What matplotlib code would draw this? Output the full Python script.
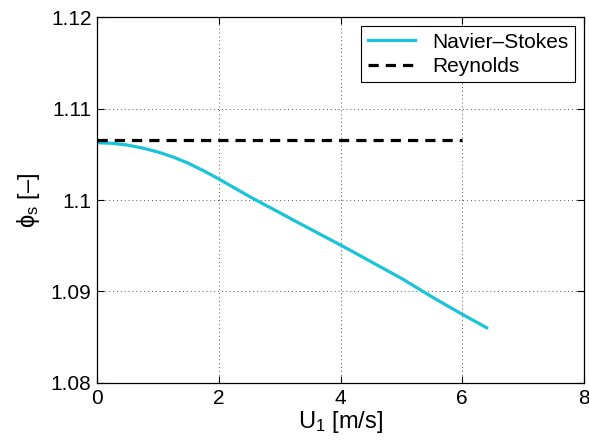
import matplotlib
matplotlib.use("Agg")
import matplotlib.pyplot as plt

plt.rcParams['font.family'] = ['Liberation Sans', 'DejaVu Sans']
plt.rcParams['mathtext.fontset'] = 'custom'
plt.rcParams['mathtext.rm'] = 'Liberation Sans'
plt.rcParams['mathtext.it'] = 'Liberation Sans'

# Data
u_ns = [0.0, 0.25, 0.5, 0.75, 1.0, 1.25, 1.5, 1.75, 2.0, 2.25, 2.5, 2.75,
        3.0, 3.25, 3.5, 3.75, 4.0, 4.25, 4.5, 4.75, 5.0, 5.25, 5.5, 5.75,
        6.0, 6.2, 6.4]
phi_ns = [1.10626, 1.10620, 1.10600, 1.10568, 1.10525, 1.10470, 1.10402,
          1.10320, 1.10230, 1.10135, 1.10040, 1.09950, 1.09862, 1.09772,
          1.09684, 1.09596, 1.09508, 1.09418, 1.09326, 1.09235, 1.09144,
          1.09043, 1.08942, 1.08846, 1.08751, 1.08678, 1.08604]
u_rey = [0.0, 6.0]
phi_rey = [1.10652, 1.10652]
xticks = [0, 2, 4, 6, 8]
yticks = [1.08, 1.09, 1.10, 1.11, 1.12]
yticklabels = ['1.08', '1.09', '1.1', '1.11', '1.12']

fig = plt.figure(figsize=(5.89, 4.42), dpi=100)
ax = fig.add_axes([0.1647, 0.1335, 0.9915 - 0.1647, 0.9615 - 0.1335])

ax.plot(u_ns, phi_ns, color='#19c3d9', lw=2.3, label='Navier\u2013Stokes')
ax.plot(u_rey, phi_rey, color='black', lw=2.3, ls=(0, (3.2, 2.2)), label='Reynolds')

ax.set_xlim(0, 8)
ax.set_ylim(1.08, 1.12)
ax.set_xticks(xticks)
ax.set_yticks(yticks)
ax.set_yticklabels(yticklabels)
ax.tick_params(direction='in', top=True, right=True, labelsize=15, length=5,
               width=0.8, pad=4)
ax.grid(True, ls=(0, (1, 3)), color='#555555', lw=0.7)
for s in ax.spines.values():
    s.set_linewidth(0.9)

ax.set_xlabel(r'U$_{1}$ [m/s]', fontsize=17, labelpad=1)
ax.set_ylabel('$\\phi_{\\mathrm{s}}$ [\u2013]', fontsize=17, labelpad=6)

leg = ax.legend(loc='upper right', fontsize=15, fancybox=False, framealpha=1,
                edgecolor='black', borderaxespad=0.45, handlelength=2.3,
                borderpad=0.3, labelspacing=0.25, handletextpad=0.8)
leg.get_frame().set_linewidth(0.8)

fig.savefig('out.png', dpi=100)
